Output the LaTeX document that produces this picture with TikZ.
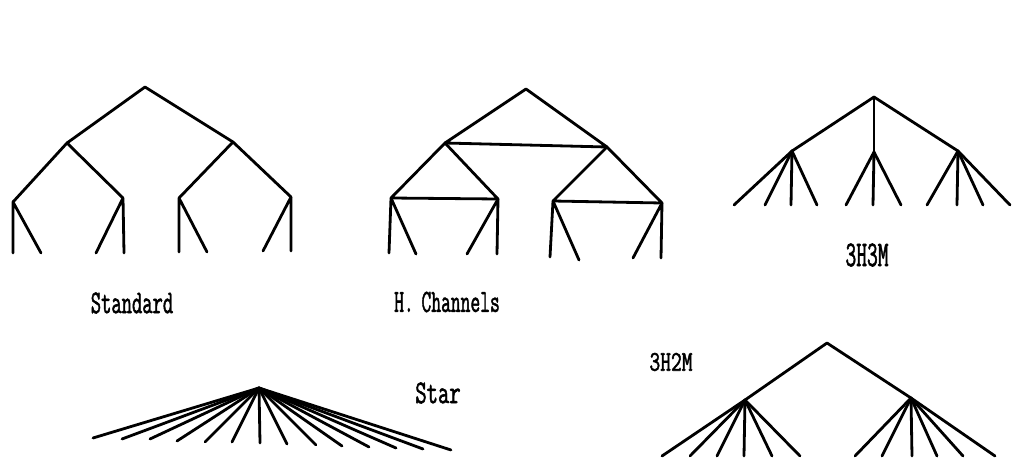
\documentclass[tikz,border=0pt]{standalone}
\usepackage{fontspec}
\usepackage{graphicx}
\newfontfamily\lblfont{Latin Modern Mono}[FakeBold=2]
\tikzset{
  edge/.style={line width=2.8pt, line cap=round, line join=round, black},
  lbl/.style={inner sep=0pt, font=\lblfont}
}
\begin{document}
\begin{tikzpicture}[x=1pt,y=-1pt]
\useasboundingbox (0,0) rectangle (1012,460);
\fill[white] (0,0) rectangle (1012,460);
% ---------- Standard ----------
\coordinate (sR) at (145,87);
\coordinate (sA) at (67,143);
\coordinate (sB) at (233,142);
\coordinate (sA1) at (13,202);
\coordinate (sA2) at (123,198);
\coordinate (sB1) at (179,198);
\coordinate (sB2) at (291,197);
\coordinate (s1) at (13,253);
\coordinate (s2) at (41,253);
\coordinate (s3) at (96,253);
\coordinate (s4) at (124,253);
\coordinate (s5) at (179,252);
\coordinate (s6) at (207,252);
\coordinate (s7) at (263,251);
\coordinate (s8) at (291,251);
\draw[edge] (sA) -- (sR) -- (sB);
\draw[edge] (sA1) -- (sA) -- (sA2);
\draw[edge] (sB1) -- (sB) -- (sB2);
\draw[edge] (s1) -- (sA1) -- (s2);
\draw[edge] (s3) -- (sA2) -- (s4);
\draw[edge] (s5) -- (sB1) -- (s6);
\draw[edge] (s7) -- (sB2) -- (s8);
\node[lbl] (lStd) at (132,303) {\fontsize{20}{20}\selectfont\scalebox{1}[1.65]{Standard}};
% ---------- H. Channels ----------
\coordinate (hR) at (526,89);
\coordinate (hA) at (445,143);
\coordinate (hB) at (607,147);
\coordinate (hA1) at (391,198);
\coordinate (hA2) at (498,199);
\coordinate (hB1) at (553,201);
\coordinate (hB2) at (662,203);
\coordinate (h1) at (389,253);
\coordinate (h2) at (416,254);
\coordinate (h3) at (467,254);
\coordinate (h4) at (497,254);
\coordinate (h5) at (550,257);
\coordinate (h6) at (579,260);
\coordinate (h7) at (633,258);
\coordinate (h8) at (661,258);
\draw[edge] (hA) -- (hR) -- (hB) -- (hA);
\draw[edge] (hA1) -- (hA) -- (hA2) -- (hA1);
\draw[edge] (hB1) -- (hB) -- (hB2) -- (hB1);
\draw[edge] (h1) -- (hA1) -- (h2);
\draw[edge] (h3) -- (hA2) -- (h4);
\draw[edge] (h5) -- (hB1) -- (h6);
\draw[edge] (h7) -- (hB2) -- (h8);
\node[lbl] (lHC) at (447,302) {\fontsize{19}{19}\selectfont\scalebox{1}[1.7]{H.\kern-2pt\ Channels}};
% ---------- 3H3M ----------
\coordinate (tR) at (874,97);
\coordinate (tA) at (792,151);
\coordinate (tB) at (874,152);
\coordinate (tC) at (958,151);
\draw[edge] (tA) -- (tR) -- (tC);
\draw[edge] (tR) -- (tB);
\foreach \x [count=\i] in {734,765,791,817} {
  \coordinate (ta\i) at (\x,205);
  \draw[edge] (tA) -- (ta\i);
}
\foreach \x [count=\i] in {846,873,901} {
  \coordinate (tb\i) at (\x,205);
  \draw[edge] (tB) -- (tb\i);
}
\foreach \x [count=\i] in {927,957,983,1010} {
  \coordinate (tc\i) at (\x,205);
  \draw[edge] (tC) -- (tc\i);
}
\node[lbl] (l33) at (867,255) {\fontsize{22}{22}\selectfont\scalebox{0.95}[1.65]{3H3M}};
% ---------- Star ----------
\coordinate (stH) at (259,388);
\foreach \x/\y [count=\i] in {93/438,122/439,150/439,177/441,205/442,232/442,260/443,287/444,316/445,342/446,369/447,396/448,423/449,451/450} {
  \coordinate (st\i) at (\x,\y);
  \draw[edge] (stH) -- (st\i);
}
\node[lbl] (lStar) at (438,393) {\fontsize{22}{22}\selectfont\scalebox{1}[1.5]{Star}};
% ---------- 3H2M ----------
\coordinate (uR) at (827,343);
\coordinate (uA) at (745,400);
\coordinate (uB) at (911,398);
\draw[edge] (uA) -- (uR) -- (uB);
\foreach \x [count=\i] in {662,690,717,744,772,800} {
  \coordinate (ua\i) at (\x,456);
  \draw[edge] (uA) -- (ua\i);
}
\foreach \x [count=\i] in {855,882,912,937,963,995} {
  \coordinate (ub\i) at (\x,456);
  \draw[edge] (uB) -- (ub\i);
}
\node[lbl] (l32) at (671,362) {\fontsize{22}{22}\selectfont\scalebox{0.95}[1.3]{3H2M}};
\end{tikzpicture}
\end{document}
